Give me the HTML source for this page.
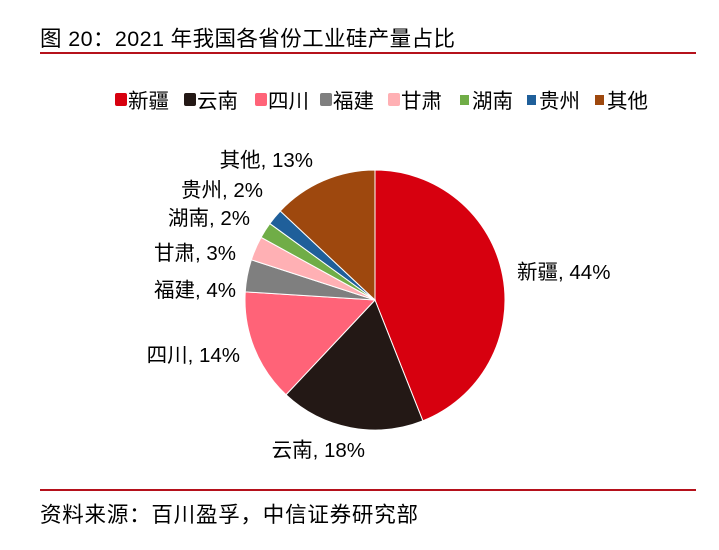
<!DOCTYPE html>
<html><head><meta charset="utf-8"><style>
body{margin:0;background:#fff;width:719px;height:545px;overflow:hidden;font-family:"Liberation Sans","Noto Sans CJK SC",sans-serif;color:#000}
</style></head><body>
<svg width="719" height="545" xmlns="http://www.w3.org/2000/svg" font-family="Liberation Sans, Noto Sans CJK SC, sans-serif">
<text x="40" y="46" font-size="21.5" textLength="415">图 20：2021 年我国各省份工业硅产量占比</text>
<rect x="40" y="52" width="656" height="2" fill="#b5111b"/>
<g font-size="20.5">
<rect x="115" y="93" width="12" height="13" fill="#d7000f" rx="2"/><text x="128" y="108">新疆</text>
<rect x="184" y="93" width="12" height="13" fill="#231815" rx="2"/><text x="197" y="108">云南</text>
<rect x="255" y="93" width="12" height="13" fill="#ff6378" rx="2"/><text x="268" y="108">四川</text>
<rect x="320" y="93" width="12" height="13" fill="#7f7f7f" rx="2"/><text x="333" y="108">福建</text>
<rect x="388" y="93" width="12" height="13" fill="#ffb0b4" rx="2"/><text x="401" y="108">甘肃</text>
<rect x="460" y="95" width="9" height="10" fill="#70ad47"/><text x="472" y="108">湖南</text>
<rect x="527" y="95" width="9" height="10" fill="#1f5f9a"/><text x="539" y="108">贵州</text>
<rect x="595" y="95" width="9" height="10" fill="#9e480e"/><text x="607" y="108">其他</text>
</g>
<g id="pie"></g>
<g font-size="20.5">
<text x="517" y="279">新疆, 44%</text>
<text x="365" y="457" text-anchor="end">云南, 18%</text>
<text x="240" y="362" text-anchor="end">四川, 14%</text>
<text x="236" y="297" text-anchor="end">福建, 4%</text>
<text x="236" y="260" text-anchor="end">甘肃, 3%</text>
<text x="250" y="225" text-anchor="end">湖南, 2%</text>
<text x="263" y="197" text-anchor="end">贵州, 2%</text>
<text x="313" y="167" text-anchor="end">其他, 13%</text>
</g>
<rect x="40" y="489" width="656" height="2" fill="#b5111b"/>
<text x="40" y="522" font-size="21.5" textLength="378">资料来源：百川盈孚，中信证券研究部</text>
</svg>
<script>
var v=[44,18,14,4,3,2,2,13],c=["#d7000f","#231815","#ff6378","#7f7f7f","#ffb0b4","#70ad47","#1f5f9a","#9e480e"];
var cx=375,cy=300,r=130,a=0,s="";
for(var i=0;i<v.length;i++){var b=a+v[i]/100*2*Math.PI;
var x1=cx+r*Math.sin(a),y1=cy-r*Math.cos(a),x2=cx+r*Math.sin(b),y2=cy-r*Math.cos(b);
s+='<path d="M'+cx+' '+cy+' L'+x1+' '+y1+' A'+r+' '+r+' 0 '+((b-a)>Math.PI?1:0)+' 1 '+x2+' '+y2+' Z" fill="'+c[i]+'" stroke="#fff" stroke-width="1"/>';a=b;}
document.getElementById("pie").innerHTML=s;
</script>
</body></html>
